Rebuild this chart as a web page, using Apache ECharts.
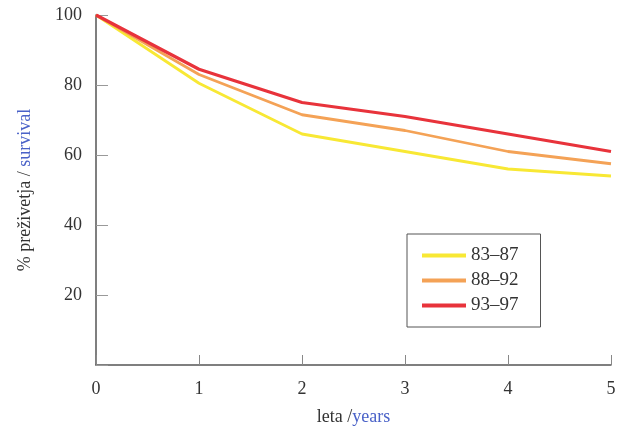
<!DOCTYPE html>
<html>
<head>
<meta charset="utf-8">
<script src="https://cdn.jsdelivr.net/npm/echarts@6/dist/echarts.min.js"></script>
<style>html,body{margin:0;padding:0;background:#fff;}#c{width:625px;height:431px;}</style>
</head>
<body>
<div id="c"></div>
<script>
const years = [0, 1, 2, 3, 4, 5];
const seriesNames = ['83–87', '88–92', '93–97'];
const s8387 = [100, 80.5, 66, 61, 56, 54];
const s8892 = [100, 83, 71.5, 67, 61, 57.5];
const s9397 = [100, 84.5, 75, 71, 66, 61];
const yTicks = [0, 20, 40, 60, 80, 100];

const colors = ['#f8e834', '#f4a256', '#e8333b'];
const widths = [2.8, 2.8, 3.2];
const allData = [s8387, s8892, s9397];
const font = 'Liberation Serif';

const chart = echarts.init(document.getElementById('c'));
chart.setOption({
  animation: false,
  backgroundColor: '#fff',
  grid: { left: 96, right: 14, top: 15, bottom: 66 },
  legend: {
    orient: 'vertical',
    left: 407, top: 234,
    padding: [12, 22, 12, 15],
    borderColor: '#555', borderWidth: 1,
    itemWidth: 44, itemHeight: 4, itemGap: 6,
    icon: 'rect',
    textStyle: { fontFamily: font, fontSize: 19, color: '#333' },
    data: seriesNames
  },
  xAxis: {
    type: 'value', min: 0, max: 5, interval: 1,
    axisLine: { lineStyle: { color: '#555', width: 1.5 } },
    axisTick: { inside: true, length: 10, lineStyle: { color: '#888' } },
    splitLine: { show: false },
    axisLabel: { fontFamily: font, fontSize: 18, color: '#333', margin: 15 },
    name: '{a|leta /}{b|years}',
    nameLocation: 'middle', nameGap: 43,
    nameTextStyle: { rich: {
      a: { fontFamily: font, fontSize: 18, color: '#333' },
      b: { fontFamily: font, fontSize: 18, color: '#4a62c8' }
    } }
  },
  yAxis: {
    type: 'value', min: 0, max: 100, interval: 20,
    axisLine: { show: true, lineStyle: { color: '#555', width: 1.5 } },
    axisTick: { show: true, inside: true, length: 12, lineStyle: { color: '#999' } },
    splitLine: { show: false },
    axisLabel: { fontFamily: font, fontSize: 18, color: '#333', margin: 14,
      formatter: v => (yTicks.indexOf(v) > 0 ? String(v) : '') },
    name: '{a|% preživetja / }{b|survival}',
    nameLocation: 'middle', nameGap: 62,
    nameTextStyle: { rich: {
      a: { fontFamily: font, fontSize: 18, color: '#333' },
      b: { fontFamily: font, fontSize: 18, color: '#4a62c8' }
    } }
  },
  series: allData.map((d, i) => ({
    name: seriesNames[i],
    type: 'line',
    data: years.map((y, j) => [y, d[j]]),
    symbol: 'none',
    lineStyle: { color: colors[i], width: widths[i] },
    itemStyle: { color: colors[i] },
    z: i + 2
  }))
});
</script>
</body>
</html>
